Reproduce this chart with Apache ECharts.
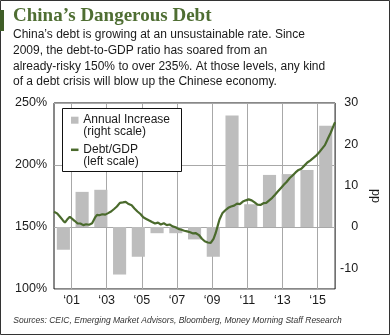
<!DOCTYPE html>
<html>
<head>
<meta charset="utf-8">
<script src="https://cdn.jsdelivr.net/npm/echarts@6/dist/echarts.min.js"></script>
<style>
  html, body { margin: 0; padding: 0; background: #fff; }
  #chart { width: 390px; height: 335px; }
</style>
</head>
<body>
<div id="chart"></div>
<script>
// Annual change in debt/GDP, percentage points (right scale)
const barYears = ['2001', '2002', '2003', '2004', '2005', '2006', '2007', '2008',
                  '2009', '2010', '2011', '2012', '2013', '2014', '2015'];
const annualIncrease = [-5.5, 8.5, 9.0, -11.5, -7.2, -1.5, -1.5, -3.0,
                        -7.2, 27.0, 5.5, 12.6, 12.8, 13.8, 24.5];

// Debt/GDP ratio, % (left scale), sampled roughly every two months
const debtTime = [
  2000.00, 2000.17, 2000.33, 2000.50, 2000.62, 2000.75, 2000.90,
  2001.00, 2001.17, 2001.33, 2001.50, 2001.67, 2001.83,
  2002.00, 2002.17, 2002.33, 2002.45, 2002.58, 2002.75, 2002.92,
  2003.08, 2003.25, 2003.42, 2003.58, 2003.75, 2003.83, 2003.92,
  2004.00, 2004.08, 2004.25, 2004.42, 2004.58, 2004.75, 2004.92,
  2005.08, 2005.25, 2005.42, 2005.58, 2005.75, 2005.92,
  2006.08, 2006.25, 2006.42, 2006.58, 2006.75, 2006.92,
  2007.08, 2007.25, 2007.42, 2007.58, 2007.75, 2007.92,
  2008.08, 2008.25, 2008.42, 2008.58, 2008.75, 2008.92,
  2009.00, 2009.08, 2009.20, 2009.33, 2009.42, 2009.58, 2009.75, 2009.92,
  2010.08, 2010.25, 2010.42, 2010.58, 2010.75, 2010.92,
  2011.08, 2011.25, 2011.42, 2011.58, 2011.75, 2011.92,
  2012.08, 2012.25, 2012.42, 2012.58, 2012.75, 2012.92,
  2013.08, 2013.25, 2013.42, 2013.58, 2013.75, 2013.92,
  2014.08, 2014.25, 2014.42, 2014.58, 2014.75, 2014.92,
  2015.08, 2015.25, 2015.42, 2015.58, 2015.75, 2015.92, 2016.00
];
const debtRatio = [
  162.3, 161.0, 158.5, 155.5, 153.5, 156.0, 158.3,
  157.5, 155.0, 153.0, 152.8, 151.5, 152.2,
  151.8, 153.0, 157.5, 159.8, 159.5, 160.3, 160.0,
  161.2, 162.5, 164.5, 166.5, 169.5, 171.0, 169.8,
  171.0, 170.2, 168.5, 167.5, 165.0, 162.5, 160.5,
  157.8, 156.5, 155.2, 154.0, 152.8, 153.5,
  152.0, 153.0, 151.5, 152.0, 150.5, 149.8,
  148.5, 147.8, 147.0, 146.5, 145.8, 144.8,
  145.0, 143.5, 140.5, 138.5, 137.5, 137.2,
  138.2, 140.5, 145.0, 151.5, 156.0, 161.0, 163.5, 165.5,
  166.5, 167.2, 168.8, 168.5, 170.5, 171.5,
  172.3, 171.5, 169.8, 168.0, 167.8, 169.2,
  169.5, 171.5, 173.5, 176.0, 178.8, 181.5,
  184.0, 186.5, 189.5, 191.5, 194.0, 196.0,
  197.0, 199.5, 202.0, 203.5, 205.5, 207.5,
  210.0, 213.0, 216.0, 221.0, 226.0, 232.0, 234.5
];

// Labelled years on the time axis
const labelYears = [2001, 2003, 2005, 2007, 2009, 2011, 2013, 2015];

const titleText = 'China\u2019s Dangerous Debt';
const bodyLines = [
  'China\u2019s debt is growing at an unsustainable rate. Since',
  '2009, the debt-to-GDP ratio has soared from an',
  'already-risky 150% to over 235%. At those levels, any kind',
  'of a debt crisis will blow up the Chinese economy.'
];
const sourceText = 'Sources: CEIC, Emerging Market Advisors, Bloomberg, Money Morning Staff Research';

const SANS = '"Liberation Sans", Arial, sans-serif';
const GREEN = '#4a6a2c';
const BAR_GRAY = '#bdbdbd';
const GRID_GRAY = '#a8a8a8';

const chart = echarts.init(document.getElementById('chart'), null, { renderer: 'canvas' });

chart.setOption({
  animation: false,
  backgroundColor: '#fff',
  grid: {
    left: 54, right: 53, top: 103, bottom: 46,
    show: true, borderColor: '#111', borderWidth: 1, backgroundColor: 'transparent'
  },
  xAxis: [
    {
      type: 'value', min: 2000, max: 2016, interval: 1,
      axisLine: { show: false }, axisTick: { show: false },
      splitLine: { show: true, lineStyle: { color: ['transparent', GRID_GRAY], width: 1 } },
      axisLabel: {
        margin: 5, fontFamily: SANS, fontSize: 12.5, color: '#1a1a1a',
        formatter: v => labelYears.includes(v) ? '\u2018' + String(v).slice(2) : ''
      }
    },
    {
      type: 'category', data: barYears, boundaryGap: true,
      show: false
    }
  ],
  yAxis: [
    {
      type: 'value', min: 100, max: 250, interval: 50, position: 'left',
      axisLine: { show: false }, axisTick: { show: false },
      splitLine: { show: true, lineStyle: { color: GRID_GRAY, width: 1 } },
      axisLabel: { margin: 7, fontFamily: SANS, fontSize: 12.5, color: '#1a1a1a', formatter: '{value}%' }
    },
    {
      type: 'value', min: -15, max: 30, interval: 5, position: 'right',
      axisLine: { show: false }, axisTick: { show: false }, splitLine: { show: false },
      name: 'pp', nameLocation: 'middle', nameRotate: -90, nameGap: 25,
      nameTextStyle: { fontFamily: SANS, fontSize: 12.5, color: '#1a1a1a' },
      axisLabel: {
        margin: 23, align: 'right', fontFamily: SANS, fontSize: 12.5, color: '#1a1a1a',
        formatter: v => (v % 10 === 0 ? String(v) : '')
      }
    }
  ],
  series: [
    {
      name: 'Annual Increase', type: 'bar', xAxisIndex: 1, yAxisIndex: 1,
      data: annualIncrease, barWidth: '70%',
      itemStyle: { color: BAR_GRAY }, z: 2
    },
    {
      name: 'Debt/GDP', type: 'line', xAxisIndex: 0, yAxisIndex: 0,
      data: debtTime.map((t, i) => [t, debtRatio[i]]),
      showSymbol: false, symbol: 'none',
      lineStyle: { color: GREEN, width: 2.2 }, z: 3
    }
  ],
  graphic: [
    // outer frame and title accent
    { type: 'rect', z: 100, silent: true,
      shape: { x: 0.5, y: 0.5, width: 389, height: 334 },
      style: { fill: 'none', stroke: '#333', lineWidth: 1 } },
    { type: 'rect', z: 100, silent: true,
      shape: { x: 0, y: 10, width: 4, height: 21 },
      style: { fill: '#3f5e27' } },
    // headline and body
    { type: 'text', z: 100, x: 13, y: 16.3,
      style: { text: titleText, fill: '#4f6e33', font: 'bold 19px "Liberation Serif", "Times New Roman", serif',
               verticalAlign: 'middle', align: 'left' } },
    { type: 'text', z: 100, x: 13, y: 27,
      style: { text: bodyLines.join('\n'), fill: '#1a1a1a', font: '12px ' + SANS,
               lineHeight: 15.7, verticalAlign: 'top', align: 'left' } },
    // legend box
    { type: 'rect', z: 100, silent: true,
      shape: { x: 62.5, y: 108.5, width: 119, height: 63 },
      style: { fill: '#fff', stroke: '#111', lineWidth: 1 } },
    { type: 'rect', z: 101, silent: true,
      shape: { x: 71, y: 116.7, width: 7.5, height: 7 },
      style: { fill: BAR_GRAY } },
    { type: 'line', z: 101, silent: true,
      shape: { x1: 71, y1: 149.8, x2: 78.5, y2: 149.8 },
      style: { stroke: GREEN, lineWidth: 2.5 } },
    { type: 'text', z: 101, x: 83.3, y: 114.1,
      style: { text: 'Annual Increase\n(right scale)', fill: '#1a1a1a', font: '12px ' + SANS,
               lineHeight: 11.8, verticalAlign: 'top', align: 'left' } },
    { type: 'text', z: 101, x: 83.3, y: 143.8,
      style: { text: 'Debt/GDP\n(left scale)', fill: '#1a1a1a', font: '12px ' + SANS,
               lineHeight: 11.8, verticalAlign: 'top', align: 'left' } },
    // sources line
    { type: 'text', z: 100, x: 13.3, y: 320.6,
      style: { text: sourceText, fill: '#333', font: 'italic 8.5px ' + SANS,
               verticalAlign: 'middle', align: 'left' } }
  ]
});
</script>
</body>
</html>
